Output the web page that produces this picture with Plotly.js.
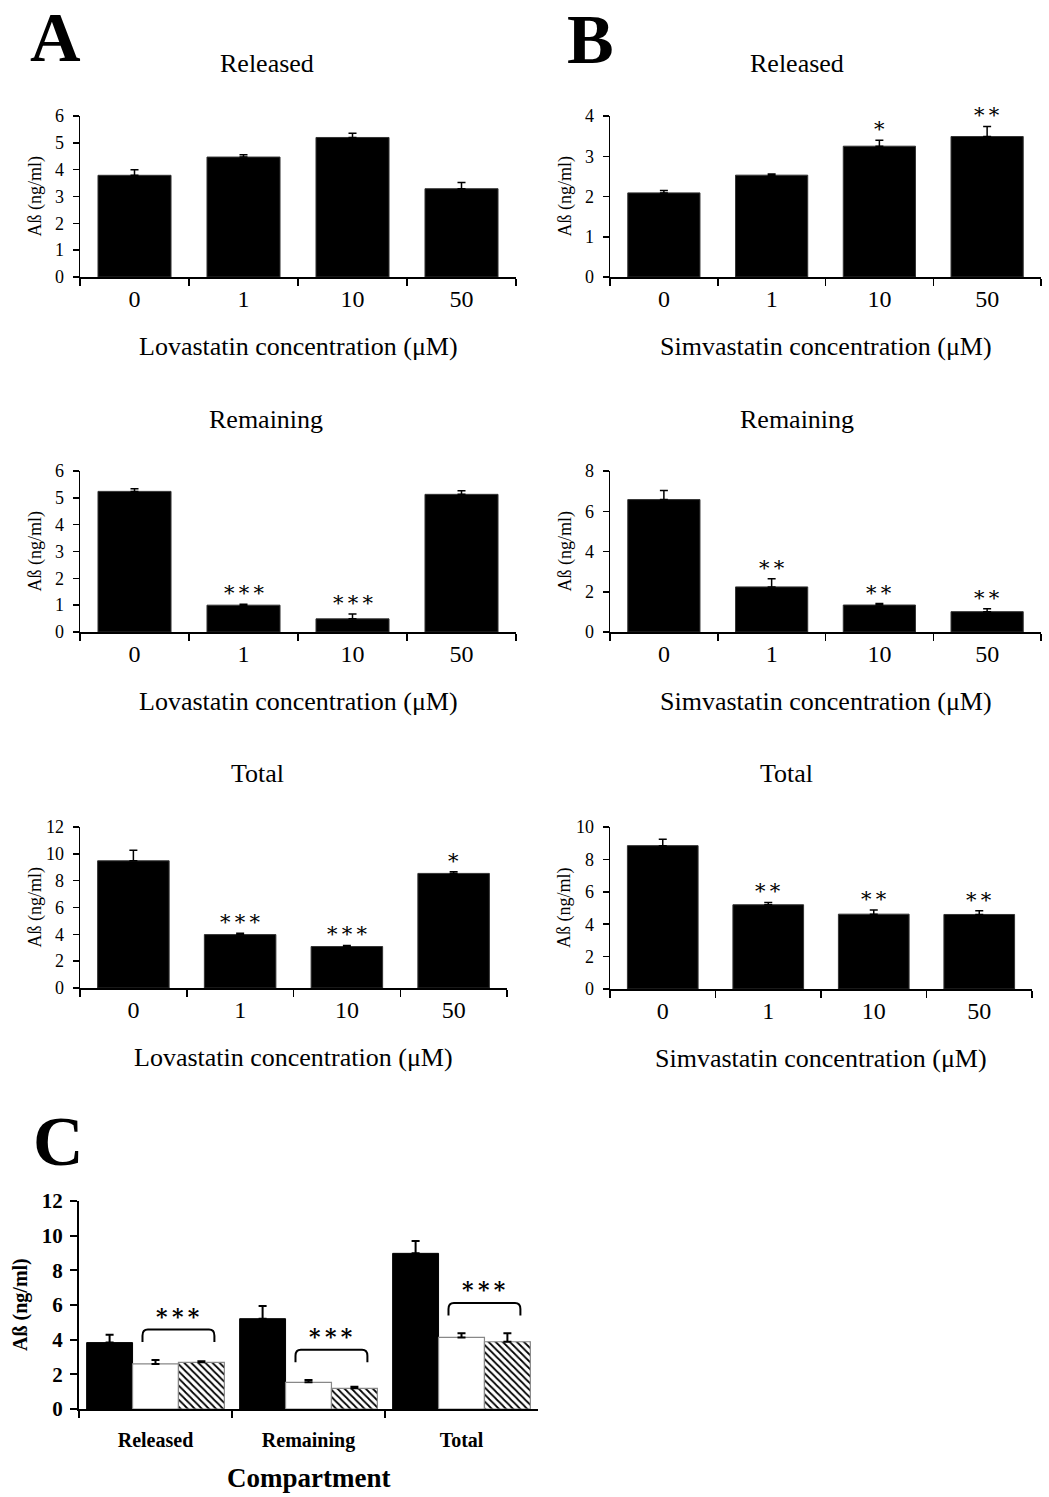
<!DOCTYPE html>
<html><head><meta charset="utf-8">
<script src="https://cdn.plot.ly/plotly-3.0.1.min.js"></script>
<style>html,body{margin:0;padding:0;background:#fff}</style>
</head><body><div id="chart" style="width:1049px;height:1497px"></div>
<script>
// ---------------- data ----------------
const concentrations = ['0', '1', '10', '50'];

const lovReleased = [3.79, 4.47, 5.20, 3.29];
const lovReleasedErr = [0.21, 0.09, 0.16, 0.23];
const lovReleasedSig = ['', '', '', ''];

const simReleased = [2.09, 2.53, 3.25, 3.49];
const simReleasedErr = [0.06, 0.03, 0.15, 0.25];
const simReleasedSig = ['', '', '*', '**'];

const lovRemaining = [5.24, 1.00, 0.49, 5.13];
const lovRemainingErr = [0.10, 0.03, 0.18, 0.13];
const lovRemainingSig = ['', '***', '***', ''];

const simRemaining = [6.58, 2.24, 1.34, 1.01];
const simRemainingErr = [0.45, 0.40, 0.07, 0.14];
const simRemainingSig = ['', '**', '**', '**'];

const lovTotal = [9.48, 3.98, 3.09, 8.54];
const lovTotalErr = [0.79, 0.10, 0.08, 0.12];
const lovTotalSig = ['', '***', '***', '*'];

const simTotal = [8.85, 5.20, 4.62, 4.60];
const simTotalErr = [0.39, 0.14, 0.25, 0.23];
const simTotalSig = ['', '**', '**', '**'];

const compartments = ['Released', 'Remaining', 'Total'];
const cBlack = [3.83, 5.21, 8.98];
const cBlackErr = [0.46, 0.73, 0.71];
const cWhite = [2.60, 1.54, 4.13];
const cWhiteErr = [0.23, 0.13, 0.24];
const cHatched = [2.69, 1.19, 3.88];
const cHatchedErr = [0.06, 0.10, 0.49];
const cSig = ['***', '***', '***'];

// ---------------- layout helpers ----------------
const W = 1049, H = 1497;
const FONT = 'Liberation Serif, Times New Roman, serif';
const STARFONT = 'DejaVu Serif, serif';
const px = v => v / W;
const py = v => 1 - v / H;
const spaced = s => s.split('').join('\u2009');

const panels = [
  {vals: lovReleased, err: lovReleasedErr, sig: lovReleasedSig, ymax: 6, dtick: 1,
   xd: [80, 516], yd: [116, 277], title: 'Released', tpos: [267, 63], xtitle: 'Lovastatin concentration (μM)'},
  {vals: simReleased, err: simReleasedErr, sig: simReleasedSig, ymax: 4, dtick: 1,
   xd: [610, 1041], yd: [116, 277], title: 'Released', tpos: [797, 63], xtitle: 'Simvastatin concentration (μM)'},
  {vals: lovRemaining, err: lovRemainingErr, sig: lovRemainingSig, ymax: 6, dtick: 1,
   xd: [80, 516], yd: [471, 632], title: 'Remaining', tpos: [266, 419], xtitle: 'Lovastatin concentration (μM)'},
  {vals: simRemaining, err: simRemainingErr, sig: simRemainingSig, ymax: 8, dtick: 2,
   xd: [610, 1041], yd: [471, 632], title: 'Remaining', tpos: [797, 419], xtitle: 'Simvastatin concentration (μM)'},
  {vals: lovTotal, err: lovTotalErr, sig: lovTotalSig, ymax: 12, dtick: 2,
   xd: [80, 507], yd: [827, 988], title: 'Total', tpos: [257, 774], xtitle: 'Lovastatin concentration (μM)'},
  {vals: simTotal, err: simTotalErr, sig: simTotalSig, ymax: 10, dtick: 2,
   xd: [610, 1032], yd: [827, 989], title: 'Total', tpos: [786, 774], xtitle: 'Simvastatin concentration (μM)'}
];

const data = [];
const layout = {
  width: W, height: H,
  margin: {l: 0, r: 0, t: 0, b: 0},
  paper_bgcolor: '#fff', plot_bgcolor: '#fff',
  showlegend: false,
  barmode: 'group', bargap: 0.1, bargroupgap: 0,
  font: {family: FONT, color: '#000'},
  annotations: [], shapes: []
};

panels.forEach((p, k) => {
  const n = k + 1;
  const xa = n === 1 ? 'x' : 'x' + n;
  const ya = n === 1 ? 'y' : 'y' + n;
  const xk = n === 1 ? 'xaxis' : 'xaxis' + n;
  const yk = n === 1 ? 'yaxis' : 'yaxis' + n;
  data.push({
    type: 'bar', x: concentrations, y: p.vals, xaxis: xa, yaxis: ya, width: 0.67,
    marker: {color: '#000', line: {color: '#333', width: 1}},
    error_y: {type: 'data', symmetric: false, array: p.err, arrayminus: p.err.map(() => 0),
              color: '#000', thickness: 1.5, width: 4},
    hoverinfo: 'skip'
  });
  layout[xk] = {
    domain: [px(p.xd[0]), px(p.xd[1])], anchor: ya, type: 'category',
    range: [-0.5, concentrations.length - 0.5],
    showline: true, linecolor: '#000', linewidth: 1.5, mirror: false,
    ticks: 'outside', tickson: 'boundaries', ticklen: 7, tickwidth: 1.5, tickcolor: '#000',
    tickfont: {size: 24, family: FONT}, showgrid: false, zeroline: false, fixedrange: true
  };
  layout[yk] = {
    domain: [py(p.yd[1]), py(p.yd[0])], anchor: xa, range: [0, p.ymax], tick0: 0, dtick: p.dtick,
    showline: true, linecolor: '#000', linewidth: 1.5,
    ticks: 'outside', ticklen: 6, tickwidth: 1.5, tickcolor: '#000', ticklabelstandoff: 5,
    tickfont: {size: 18, family: FONT}, showgrid: false, zeroline: false, fixedrange: true
  };
  layout.annotations.push({
    text: p.title, xref: 'paper', yref: 'paper', x: px(p.tpos[0]), y: py(p.tpos[1]),
    xanchor: 'center', yanchor: 'middle', showarrow: false, font: {size: 26, family: FONT}
  });
  layout.annotations.push({
    text: p.xtitle, xref: xa + ' domain', yref: ya + ' domain', x: 0.5, y: 0, yshift: -69,
    xanchor: 'center', yanchor: 'middle', showarrow: false, font: {size: 26, family: FONT}
  });
  layout.annotations.push({
    text: 'Aß (ng/ml)', textangle: -90, xref: xa + ' domain', yref: ya + ' domain', x: 0, y: 0.5,
    xshift: -45, xanchor: 'center', yanchor: 'middle', showarrow: false, font: {size: 18, family: FONT}
  });
  p.sig.forEach((s, i) => {
    if (!s) return;
    layout.annotations.push({
      text: spaced(s), xref: xa, yref: ya, x: i, y: p.vals[i] + p.err[i],
      xanchor: 'center', yanchor: 'bottom', yshift: -3, showarrow: false,
      font: {size: 21, family: STARFONT}
    });
  });
});

// ---------------- panel C ----------------
const zeros3 = [0, 0, 0];
data.push({
  type: 'bar', x: compartments, y: cBlack, xaxis: 'x7', yaxis: 'y7',
  marker: {color: '#000', line: {color: '#000', width: 1}},
  error_y: {type: 'data', symmetric: false, array: cBlackErr, arrayminus: zeros3, color: '#000', thickness: 2, width: 4},
  hoverinfo: 'skip'
});
data.push({
  type: 'bar', x: compartments, y: cWhite, xaxis: 'x7', yaxis: 'y7',
  marker: {color: '#fff', line: {color: '#888', width: 1.2}},
  error_y: {type: 'data', symmetric: false, array: cWhiteErr, arrayminus: zeros3, color: '#000', thickness: 2, width: 4},
  hoverinfo: 'skip'
});
data.push({
  type: 'bar', x: compartments, y: cHatched, xaxis: 'x7', yaxis: 'y7',
  marker: {color: '#fff', line: {color: '#888', width: 1.2},
           pattern: {shape: '\\', fgcolor: '#000', bgcolor: '#fff', size: 5, solidity: 0.35}},
  error_y: {type: 'data', symmetric: false, array: cHatchedErr, arrayminus: zeros3, color: '#000', thickness: 2, width: 4},
  hoverinfo: 'skip'
});
layout.xaxis7 = {
  domain: [px(79), px(538)], anchor: 'y7', type: 'category',
  range: [-0.5, compartments.length - 0.5],
  showline: true, linecolor: '#000', linewidth: 2,
  ticks: 'outside', tickson: 'boundaries', ticklen: 7, tickwidth: 2, tickcolor: '#000', ticklabelstandoff: 12,
  tickfont: {size: 20, family: FONT, weight: 'bold'}, showgrid: false, zeroline: false, fixedrange: true
};
layout.yaxis7 = {
  domain: [py(1409), py(1201)], anchor: 'x7', range: [0, 12], tick0: 0, dtick: 2,
  showline: true, linecolor: '#000', linewidth: 2,
  ticks: 'outside', ticklen: 7, tickwidth: 2, tickcolor: '#000', ticklabelstandoff: 3,
  tickfont: {size: 21, family: FONT, weight: 'bold'}, showgrid: false, zeroline: false, fixedrange: true
};
layout.annotations.push({
  text: '<b>Compartment</b>', xref: 'x7 domain', yref: 'y7 domain', x: 0.5, y: 0, yshift: -69,
  xanchor: 'center', yanchor: 'middle', showarrow: false, font: {size: 27, family: FONT}
});
layout.annotations.push({
  text: '<b>Aß (ng/ml)</b>', textangle: -90, xref: 'x7 domain', yref: 'y7 domain', x: 0, y: 0.5,
  xshift: -59, xanchor: 'center', yanchor: 'middle', showarrow: false, font: {size: 20, family: FONT}
});
// brackets over the two treated bars of each compartment (group of 3 bars, each 0.3 wide)
const barW = (1 - 0.1) / 3;
compartments.forEach((c, i) => {
  const top = Math.max(cWhite[i] + cWhiteErr[i], cHatched[i] + cHatchedErr[i]) + 1.75;
  const mid = i + barW / 2;
  const l = mid - 0.235, r = mid + 0.235, drop = 0.72, rx = 0.035, ry = 0.35;
  layout.shapes.push({
    type: 'path', xref: 'x7', yref: 'y7', line: {color: '#000', width: 2},
    path: `M ${l},${top - drop} L ${l},${top - ry} Q ${l},${top} ${l + rx},${top} L ${r - rx},${top} Q ${r},${top} ${r},${top - ry} L ${r},${top - drop}`
  });
  layout.annotations.push({
    text: '<b>' + spaced(cSig[i]) + '</b>', xref: 'x7', yref: 'y7', x: mid, y: top,
    xanchor: 'center', yanchor: 'bottom', yshift: -1, showarrow: false, font: {size: 22, family: STARFONT}
  });
});

// panel letters
[['A', 55, 38], ['B', 590, 40], ['C', 58, 1141]].forEach(([t, x, y]) => {
  layout.annotations.push({
    text: '<b>' + t + '</b>', xref: 'paper', yref: 'paper', x: px(x), y: py(y),
    xanchor: 'center', yanchor: 'middle', showarrow: false, font: {size: 70, family: FONT}
  });
});

Plotly.newPlot('chart', data, layout, {staticPlot: true, displayModeBar: false});
</script>
</body></html>
